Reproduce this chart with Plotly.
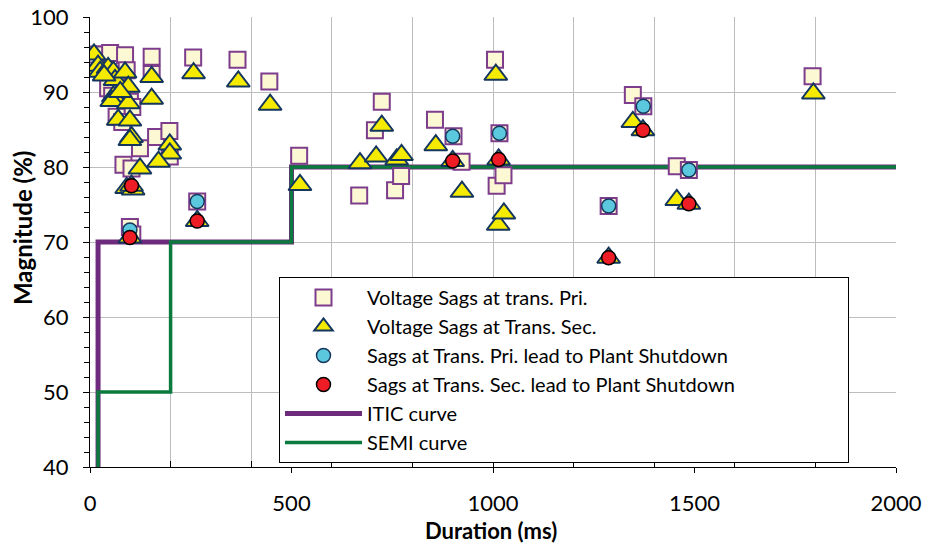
import plotly.graph_objects as go

# ---- data ----
pri_x = [8, 30, 50, 87, 153, 153, 91, 65, 45, 55, 99, 105, 66, 80, 124, 164, 197, 198, 83, 103,
         99, 105, 266, 256, 366, 445, 519, 668, 707, 724, 757, 772, 856, 902, 922, 1005, 1009,
         1016, 1026, 1287, 1347, 1373, 1456, 1486, 1793]
pri_y = [95.0, 95.0, 95.2, 94.9, 94.7, 92.4, 92.9, 92.0, 90.5, 89.5, 88.7, 88.0, 86.7, 86.0, 82.5,
         84.0, 84.8, 81.4, 80.3, 79.8, 72.0, 71.0, 75.4, 94.6, 94.3, 91.4, 81.5, 76.2, 84.9, 88.7,
         76.9, 78.8, 86.3, 84.1, 80.7, 94.3, 77.5, 84.5, 78.9, 74.8, 89.6, 88.1, 80.1, 79.6, 92.1]

sec_x = [10, 15, 20, 25, 45, 58, 62, 87, 95, 58, 54, 70, 95, 99, 103, 99, 153, 153, 198, 198, 170,
         124, 91, 107, 103, 99, 257, 368, 447, 266, 521, 670, 710, 724, 761, 773, 858, 900, 923,
         1007, 1014, 1013, 1027, 1287, 1347, 1372, 1456, 1486, 1795, 35, 75]
sec_y = [95.0, 93.0, 93.5, 92.7, 93.2, 92.7, 91.6, 92.6, 90.7, 89.4, 88.8, 86.3, 88.5, 86.2, 84.0,
         83.6, 92.0, 89.1, 83.0, 81.8, 80.7, 79.8, 77.2, 77.0, 77.5, 70.6, 92.5, 91.4, 88.3, 72.8,
         77.6, 80.5, 81.4, 85.5, 81.0, 81.6, 82.9, 80.8, 76.7, 92.3, 81.0, 72.3, 73.8, 67.9, 86.0,
         84.9, 75.6, 75.1, 89.8, 92.2, 90.0]

pri_sd_x = [99, 266, 900, 1016, 1287, 1373, 1486]
pri_sd_y = [71.6, 75.4, 84.1, 84.5, 74.8, 88.1, 79.6]

sec_sd_x = [103, 99, 266, 900, 1014, 1287, 1372, 1486]
sec_sd_y = [77.5, 70.6, 72.8, 80.8, 81.0, 67.9, 84.9, 75.1]

itic_x = [20, 20, 500, 500, 2000]
itic_y = [40, 70, 70, 80, 80]
semi_x = [20, 20, 200, 200, 500, 500, 2000]
semi_y = [40, 50, 50, 70, 70, 80, 80]

x_labels = [0, 500, 1000, 1500, 2000]

FONT = "Lato, 'Open Sans', sans-serif"
PAD = "\u00a0" * 21

W, H = 925, 543
ML, MR, MT, MB = 90, 29, 17, 76
PW, PH = W - ML - MR, H - MT - MB

fig = go.Figure()

fig.add_trace(go.Scatter(
    x=pri_x, y=pri_y, mode="markers", name="Voltage Sags at trans. Pri.",
    xaxis="x2", yaxis="y",
    marker=dict(symbol="square", size=16, color="#FCF8D3",
                line=dict(color="#7D3C8C", width=2))))
fig.add_trace(go.Scatter(
    x=sec_x, y=sec_y, mode="markers", name="Voltage Sags at Trans. Sec.",
    xaxis="x2", yaxis="y",
    marker=dict(symbol="triangle-up", size=20, color="#F5EB00",
                line=dict(color="#14365E", width=2))))
fig.add_trace(go.Scatter(
    x=pri_sd_x, y=pri_sd_y, mode="markers", name="Sags at Trans. Pri. lead to Plant Shutdown",
    xaxis="x2", yaxis="y",
    marker=dict(symbol="circle", size=14, color="#5BC8DE",
                line=dict(color="#17375E", width=1.5))))
fig.add_trace(go.Scatter(
    x=sec_sd_x, y=sec_sd_y, mode="markers",
    name="Sags at Trans. Sec. lead to Plant Shutdown" + PAD,
    xaxis="x2", yaxis="y",
    marker=dict(symbol="circle", size=14, color="#EE1C25",
                line=dict(color="#000000", width=1.5))))
fig.add_trace(go.Scatter(
    x=itic_x, y=itic_y, mode="lines", name="ITIC curve",
    xaxis="x", yaxis="y",
    line=dict(color="#6E2A7D", width=5)))
fig.add_trace(go.Scatter(
    x=semi_x, y=semi_y, mode="lines", name="SEMI curve",
    xaxis="x", yaxis="y",
    line=dict(color="#0B7A3E", width=3.5)))

fig.update_layout(
    width=W, height=H,
    margin=dict(l=ML, r=MR, t=MT, b=MB, autoexpand=False),
    paper_bgcolor="white", plot_bgcolor="white",
    font=dict(family=FONT, color="#000000"),
    showlegend=True,
    legend=dict(
        x=(279 - ML) / PW, y=(H - MB - 277) / PH, xanchor="left", yanchor="top",
        bgcolor="white", bordercolor="#000000", borderwidth=1,
        font=dict(family=FONT, size=20, color="#000000"),
        itemwidth=77, tracegroupgap=0,
    ),
    xaxis=dict(
        range=[0, 2000], tickmode="linear", dtick=200, tick0=0,
        showgrid=True, gridcolor="#BDBDBD", gridwidth=1,
        showticklabels=False, ticks="inside", ticklen=6, tickcolor="#000000",
        showline=True, linecolor="#000000", linewidth=1,
        zeroline=False, automargin=False,
    ),
    xaxis2=dict(
        overlaying="x", anchor="y", side="bottom",
        range=[0, 2000], tickmode="array", tickvals=x_labels,
        ticktext=[str(v) for v in x_labels],
        showgrid=False, zeroline=False, automargin=False,
        ticks="outside", ticklen=5, tickcolor="#000000",
        ticklabelstandoff=12,
        tickfont=dict(family=FONT, size=22, color="#000000"),
    ),
    yaxis=dict(
        range=[40, 100], tickmode="linear", dtick=10, tick0=40,
        showgrid=True, gridcolor="#BDBDBD", gridwidth=1,
        ticks="outside", ticklen=6, tickcolor="#000000",
        minor=dict(dtick=2, ticks="outside", ticklen=5, tickcolor="#000000", showgrid=False),
        showline=True, linecolor="#000000", linewidth=1,
        zeroline=False, automargin=False,
        tickfont=dict(family=FONT, size=22, color="#000000"),
        ticklabelstandoff=10,
    ),
    annotations=[
        dict(text="<b>Duration (ms)</b>", xref="paper", yref="paper",
             x=(491 - ML) / PW, y=-(530 - (H - MB)) / PH,
             xanchor="center", yanchor="middle", showarrow=False,
             font=dict(family=FONT, size=22, color="#000000")),
        dict(text="<b>Magnitude (%)</b>", xref="paper", yref="paper",
             x=-(ML - 22) / PW, y=(H - MB - 228) / PH,
             xanchor="center", yanchor="middle", textangle=-90, showarrow=False,
             font=dict(family=FONT, size=24, color="#000000")),
    ],
)

fig.write_html("out.html", config={"displayModeBar": False},
               post_script="document.body.style.margin='0';document.body.style.padding='0';")
